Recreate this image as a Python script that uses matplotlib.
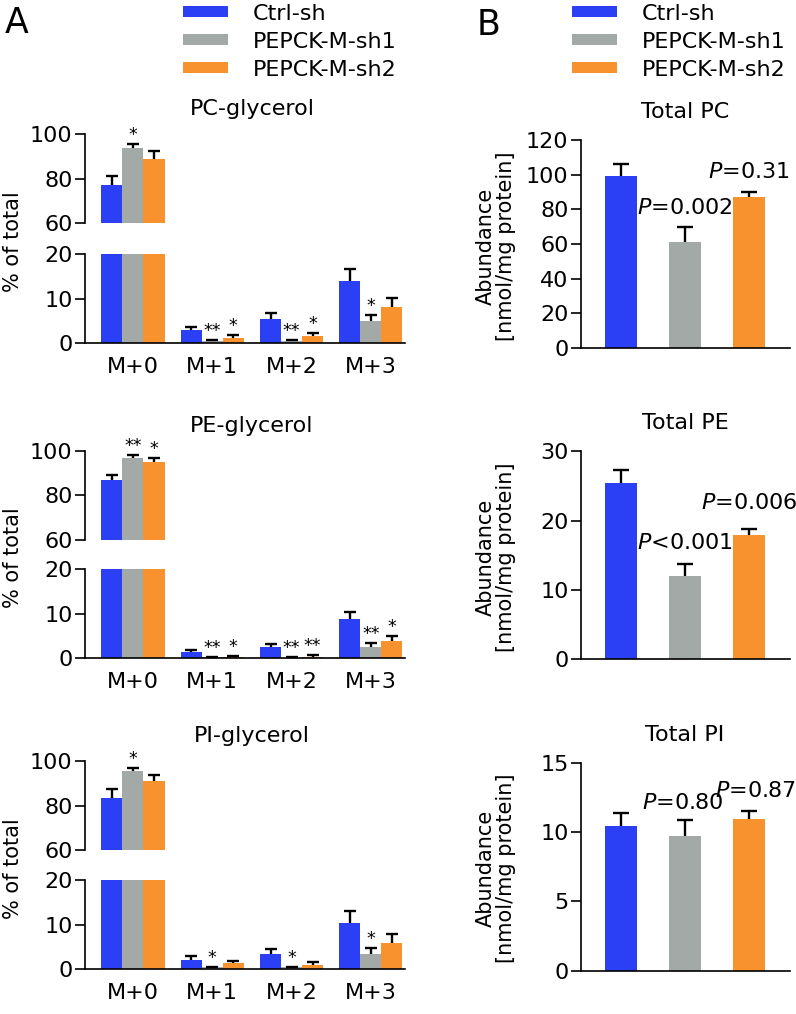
import numpy as np
import matplotlib
matplotlib.use("Agg")
import matplotlib.pyplot as plt
from matplotlib.patches import Patch

# Groups and colours
GROUPS = ["Ctrl-sh", "PEPCK-M-sh1", "PEPCK-M-sh2"]
COLORS = ["#2b40f5", "#a2a9a7", "#f8922f"]
ISOTOPOLOGUES = ["M+0", "M+1", "M+2", "M+3"]

# Panel A: % of total, one row per group, columns M+0..M+3
pc_glycerol_mean = [[77.1, 3.1, 5.4, 14.0], [93.9, 0.5, 0.5, 4.9], [88.8, 1.3, 1.6, 8.1]]
pc_glycerol_err = [[4.3, 0.6, 1.35, 2.7], [1.6, 0.15, 0.15, 1.35], [3.6, 0.5, 0.75, 2.1]]
pc_glycerol_stars = [["", "", "", ""], ["*", "**", "**", "*"], ["", "*", "*", ""]]

pe_glycerol_mean = [[86.7, 1.4, 2.6, 8.8], [96.8, 0.2, 0.15, 2.6], [95.0, 0.3, 0.4, 3.9]]
pe_glycerol_err = [[2.6, 0.4, 0.7, 1.7], [1.1, 0.15, 0.1, 0.75], [1.8, 0.2, 0.35, 1.2]]
pe_glycerol_stars = [["", "", "", ""], ["**", "**", "**", "**"], ["*", "*", "**", "*"]]

pi_glycerol_mean = [[83.5, 2.2, 3.5, 10.4], [95.5, 0.5, 0.5, 3.5], [91.3, 1.4, 0.9, 6.0]]
pi_glycerol_err = [[4.2, 0.8, 1.1, 2.6], [1.6, 0.1, 0.1, 1.3], [2.5, 0.45, 0.7, 1.9]]
pi_glycerol_stars = [["", "", "", ""], ["*", "*", "*", "*"], ["", "", "", ""]]

# Panel B: abundance [nmol/mg protein]
total_pc_mean = [99.6, 61.0, 87.0]
total_pc_err = [6.5, 8.8, 3.3]
total_pc_pvals = ["", "$P$=0.002", "$P$=0.31"]

total_pe_mean = [25.5, 12.0, 18.0]
total_pe_err = [1.75, 1.8, 0.8]
total_pe_pvals = ["", "$P$<0.001", "$P$=0.006"]

total_pi_mean = [10.43, 9.74, 10.96]
total_pi_err = [0.94, 1.13, 0.55]
total_pi_pvals = ["", "$P$=0.80", "$P$=0.87"]

W, H = 796, 1014
FS = 16      # horizontal text
FS_ROT = 15  # rotated axis labels
LW = 1.2

fig = plt.figure(figsize=(W / 100, H / 100), dpi=100)


def px_axes(x0, x1, ytop, ybot):
    # place an axes by pixel box (y measured from the top)
    return fig.add_axes([x0 / W, 1 - ybot / H, (x1 - x0) / W, (ybot - ytop) / H])


def style_y(ax):
    ax.tick_params(axis="y", length=7.5, width=LW, pad=1.5, labelsize=FS)
    ax.spines["left"].set_linewidth(LW)
    ax.spines["bottom"].set_linewidth(LW)
    ax.spines["top"].set_visible(False)
    ax.spines["right"].set_visible(False)


def upper_errorbar(ax, x, means, errs, capsize):
    # only the upper whisker with its cap, like GraphPad
    eb = ax.errorbar(x, means, yerr=[np.zeros(len(errs)), errs], fmt="none",
                     ecolor="black", elinewidth=1.7, capsize=capsize, capthick=1.7, zorder=3)
    eb[1][0].set_visible(False)


def isotopologue_panel(means, errs, stars, title, ytop_upper, ybot_lower):
    means = np.array(means)
    errs = np.array(errs)
    upper = px_axes(85, 405, ytop_upper, ytop_upper + 89)
    lower = px_axes(85, 405, ybot_lower - 89, ybot_lower)
    w = 0.265
    x = np.arange(len(ISOTOPOLOGUES))
    for ax in (upper, lower):
        for j in range(3):
            xj = x + (j - 1) * w
            ax.bar(xj, means[j], width=w, color=COLORS[j], zorder=2)
            upper_errorbar(ax, xj, means[j], errs[j], 4)
        ax.set_xlim(-0.605, 3.43)
        style_y(ax)
    upper.set_ylim(60, 100)
    upper.set_yticks([60, 80, 100])
    upper.spines["bottom"].set_visible(False)
    upper.set_xticks([])
    lower.set_ylim(0, 20)
    lower.set_yticks([0, 10, 20])
    lower.set_xticks(x)
    lower.set_xticklabels(ISOTOPOLOGUES)
    lower.tick_params(axis="x", length=0, pad=10, labelsize=FS)
    for j in range(3):
        for i in range(4):
            if stars[j][i]:
                top = means[j][i] + errs[j][i]
                ax = upper if top > 20 else lower
                ax.text(i + (j - 1) * w, top, stars[j][i], ha="center", va="bottom",
                        fontsize=12.5, clip_on=False)
    mid = (ytop_upper + ybot_lower) / 2
    fig.text(13 / W, 1 - (mid + 3) / H, "% of total", rotation=90, ha="center",
             va="center", fontsize=FS_ROT)
    fig.text(252 / W, 1 - (ytop_upper - 25) / H, title, ha="center", va="center", fontsize=FS)


def total_panel(means, errs, pvals, title, ymax, step, ytop, ybot, pval_pos):
    ax = px_axes(581, 790, ytop, ybot)
    x = np.arange(3)
    ax.bar(x, means, width=0.49, color=COLORS, zorder=2)
    upper_errorbar(ax, x, np.array(means), np.array(errs), 5.5)
    ax.set_xlim(-0.62, 2.635)
    ax.set_ylim(0, ymax)
    ax.set_yticks(np.arange(0, ymax + step / 2, step))
    ax.set_xticks([])
    style_y(ax)
    for j in range(3):
        if pvals[j]:
            px, py = pval_pos[j]
            ax.text(px, py, pvals[j], ha="center", va="center", fontsize=FS, clip_on=False)
    mid = (ytop + ybot) / 2
    fig.text(496 / W, 1 - (mid + 2) / H, "Abundance\n[nmol/mg protein]", rotation=90,
             ha="center", va="center", multialignment="center", fontsize=FS_ROT,
             linespacing=1.05)
    fig.text(685 / W, 1 - (ytop - 28) / H, title, ha="center", va="center", fontsize=FS)


isotopologue_panel(pc_glycerol_mean, pc_glycerol_err, pc_glycerol_stars, "PC-glycerol", 134.3, 343.3)
isotopologue_panel(pe_glycerol_mean, pe_glycerol_err, pe_glycerol_stars, "PE-glycerol", 450.7, 658.3)
isotopologue_panel(pi_glycerol_mean, pi_glycerol_err, pi_glycerol_stars, "PI-glycerol", 761.3, 969.3)

total_panel(total_pc_mean, total_pc_err, total_pc_pvals, "Total PC", 120, 20, 140.3, 347.7,
            [None, (0.99, 80.8), (2.0, 101.8)])
total_panel(total_pe_mean, total_pe_err, total_pe_pvals, "Total PE", 30, 10, 451.3, 659.3,
            [None, (0.99, 16.8), (2.0, 22.5)])
total_panel(total_pi_mean, total_pi_err, total_pi_pvals, "Total PI", 15, 5, 762.7, 970.7,
            [None, (0.97, 12.1), (2.1, 12.98)])

# Legends and panel letters
handles = [Patch(facecolor=c, edgecolor="none") for c in COLORS]
for lx in (183, 572):
    fig.legend(handles, GROUPS, loc="upper left", bbox_to_anchor=(lx / W, 1 - 3.5 / H),
               frameon=False, fontsize=FS, handlelength=2.03, handleheight=0.36,
               handletextpad=1.13, labelspacing=0.36, borderpad=0, borderaxespad=0)

fig.text(5 / W, 1 - 23 / H, "A", fontsize=25, ha="left", va="center")
fig.text(477 / W, 1 - 25 / H, "B", fontsize=25, ha="left", va="center")

fig.savefig("out.png", dpi=100)
